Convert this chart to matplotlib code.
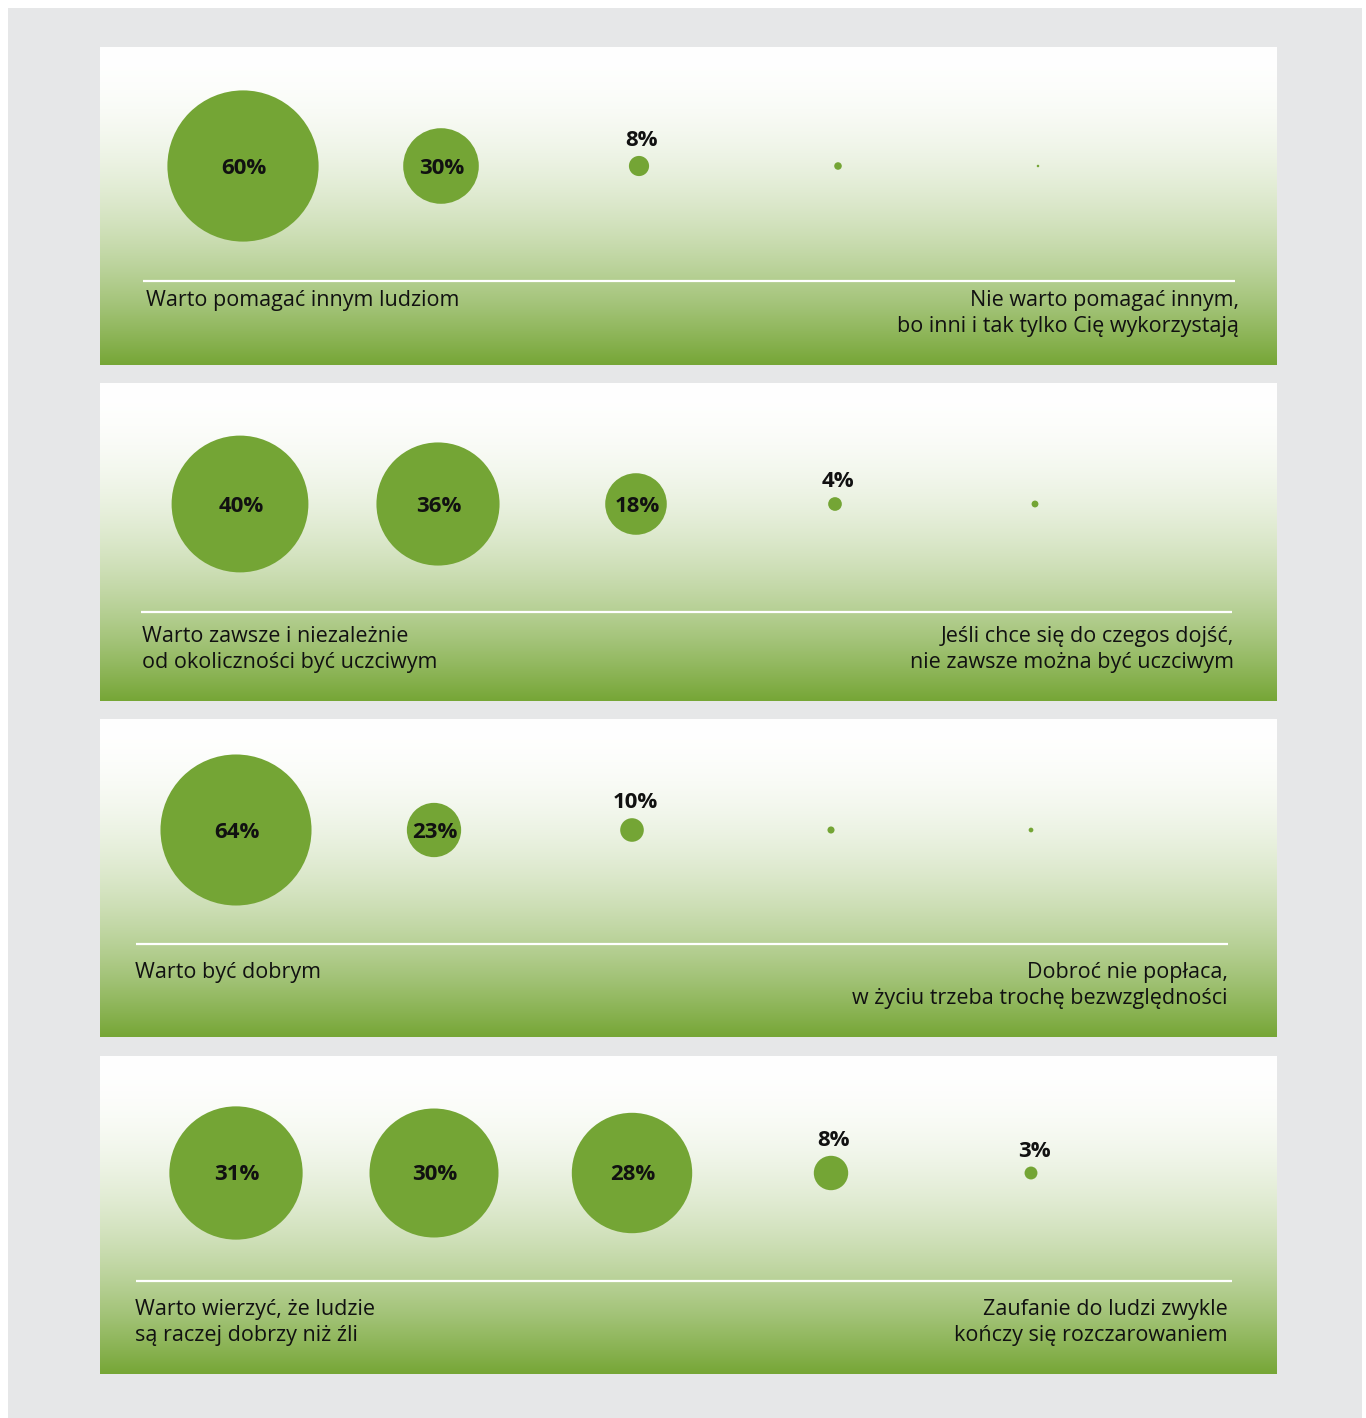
import numpy as np
import matplotlib
matplotlib.use("Agg")
import matplotlib.pyplot as plt
from matplotlib.patches import Rectangle, Circle

plt.rcParams['font.family'] = ['Open Sans', 'DejaVu Sans']

# ---- data -------------------------------------------------------------
values_help = [60, 30, 8, 3, 1]
values_honest = [40, 36, 18, 4, 2]
values_good = [64, 23, 10, 3, 2]
values_trust = [31, 30, 28, 8, 3]

left_labels = [
    "Warto pomagać innym ludziom",
    "Warto zawsze i niezależnie\nod okoliczności być uczciwym",
    "Warto być dobrym",
    "Warto wierzyć, że ludzie\nsą raczej dobrzy niż źli",
]
right_labels = [
    "Nie warto pomagać innym,\nbo inni i tak tylko Cię wykorzystają",
    "Jeśli chce się do czegos dojść,\nnie zawsze można być uczciwym",
    "Dobroć nie popłaca,\nw życiu trzeba trochę bezwzględności",
    "Zaufanie do ludzi zwykle\nkończy się rozczarowaniem",
]
# values labelled on the chart (the smallest answers carry no label)
shown_labels = [
    [True, True, True, False, False],
    [True, True, True, True, False],
    [True, True, True, False, False],
    [True, True, True, True, True],
]

panels = [values_help, values_honest, values_good, values_trust]

# ---- layout (pixel units) ---------------------------------------------
W, H = 1366, 1418
DPI = 100
GREEN = "#74a535"
GRAY = "#e6e7e8"
TEXT = "#111111"

panel_tops = [47, 383, 719, 1056]
panel_h = 318
panel_x0, panel_x1 = 100, 1277
x_shift = [4, 1, -3, -3]
bubble_x = [239, 437, 635, 834, 1034]
center_dy = [119, 121, 111, 117]
line_dy = [234, 229, 225, 225]
line_x = [(143, 1235), (141, 1232), (136, 1228), (136, 1232)]
text_left = [146, 142, 135, 135]
text_right = [1239, 1234, 1228, 1228]
text_dy = 252
px_per_pct = [2.52, 3.42, 2.36, 4.3]   # bubble diameter per percentage point

fig = plt.figure(figsize=(W / DPI, H / DPI), dpi=DPI)
ax = fig.add_axes([0, 0, 1, 1])
ax.set_xlim(0, W)
ax.set_ylim(H, 0)
ax.set_aspect('equal')
ax.axis('off')
fig.patch.set_facecolor("white")

ax.add_patch(Rectangle((8, 8), 1354, H - 8, facecolor=GRAY, edgecolor='none', zorder=0))

# vertical white-to-green gradient
t = np.linspace(0, 1, 400)
f = t ** 1.9
g = np.array([0x76, 0xa6, 0x36]) / 255.0
grad = (1 - f)[:, None] * np.ones(3)[None, :] + f[:, None] * g[None, :]
grad_img = np.repeat(grad[:, None, :], 2, axis=1)

fs_label = 15.5
fs_pct = 16

for i, vals in enumerate(panels):
    top = panel_tops[i]
    sx = x_shift[i]
    ax.imshow(grad_img, extent=(panel_x0, panel_x1, top + panel_h, top),
              aspect='auto', interpolation='bilinear', zorder=1)

    cy = top + center_dy[i]
    for j, v in enumerate(vals):
        cx = bubble_x[j] + sx
        r = px_per_pct[i] * v / 2.0
        ax.add_patch(Circle((cx, cy), r, facecolor=GREEN, edgecolor='none', zorder=2))
        if not shown_labels[i][j]:
            continue
        if v >= 15:
            ax.text(cx + 1, cy + 2, f"{v}%", ha='center', va='center', fontsize=fs_pct,
                    fontweight='bold', color=TEXT, zorder=3)
        else:
            ax.text(cx + 3, cy - r - 5, f"{v}%", ha='center', va='bottom', fontsize=fs_pct,
                    fontweight='bold', color=TEXT, zorder=3)

    ly = top + line_dy[i]
    lx0, lx1 = line_x[i]
    ax.plot([lx0, lx1], [ly, ly], color='white', lw=1.6, zorder=2, solid_capstyle='butt')

    ty = top + text_dy
    ax.text(text_left[i], ty - 9, left_labels[i], ha='left', va='top', fontsize=fs_label,
            color=TEXT, linespacing=1.3, zorder=3)
    ax.text(text_right[i], ty - 9, right_labels[i], ha='right', va='top', fontsize=fs_label,
            color=TEXT, linespacing=1.3, multialignment='right', zorder=3)

fig.savefig("out.png", dpi=DPI, facecolor=fig.get_facecolor())
